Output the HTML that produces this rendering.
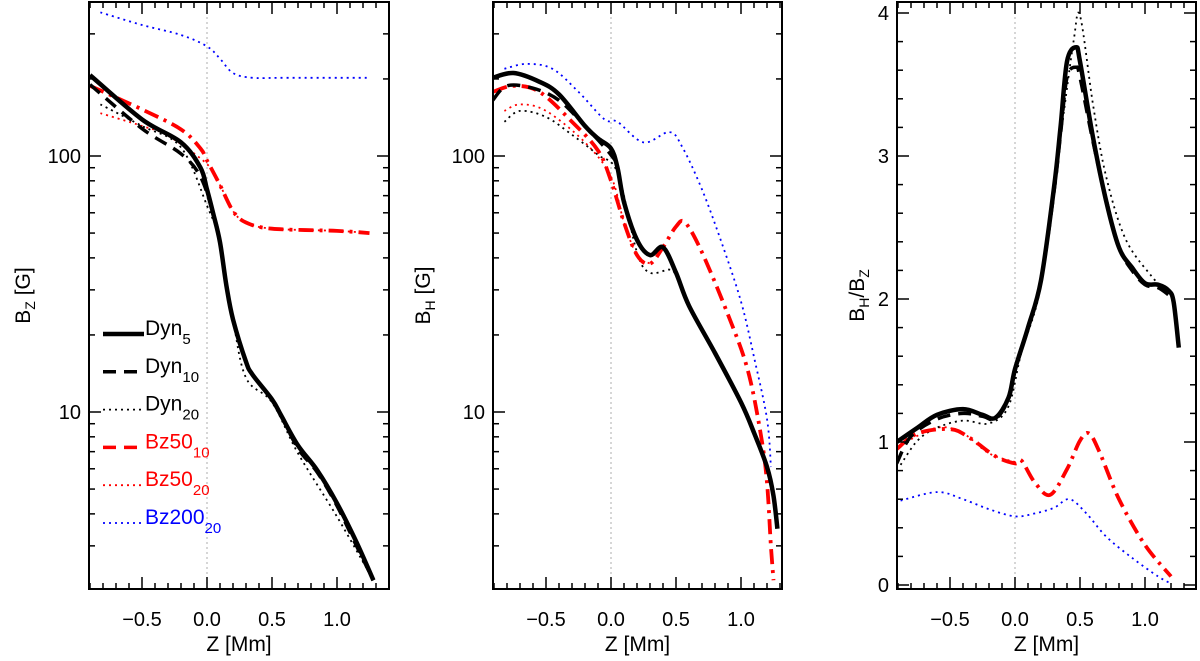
<!DOCTYPE html>
<html><head><meta charset="utf-8"><style>
html,body{margin:0;padding:0;background:#fff;}
svg{display:block;font-family:"Liberation Sans",sans-serif;}
</style></head><body>
<svg id="chart" width="1200" height="661" viewBox="0 0 1200 661"></svg>
<script>
// ---- data ----
const p1DynZ5=[-0.9,-0.5,-0.2,-0.05,0,0.05,0.1,0.15,0.2,0.3,0.35,0.5,0.57,0.7,0.85,1.0,1.15,1.28];
const p1Dyn5=[207,139,113,90,74,59,46,31,23,15.7,14,11.2,9.7,7.4,5.9,4.4,3.1,2.2];
const p1DynZ10=[-0.9,-0.5,-0.2,-0.05,0.05,0.1,0.15,0.2,0.3,0.35,0.5,0.57,0.7,0.85,1.0,1.15,1.28];
const p1Dyn10=[190,128,102,83,59,46,31,23,15.7,14,11.2,9.7,7.2,5.8,4.3,3.0,2.2];
const p1DynZ20=[-0.82,-0.5,-0.2,0,0.1,0.2,0.3,0.5,0.7,1.0,1.28];
const p1Dyn20=[159,131,108,64,46,23,13.6,10.9,6.9,3.9,2.2];
const p1BzZ10=[-0.9,-0.5,-0.2,-0.05,0,0.1,0.2,0.3,0.5,1.0,1.25];
const p1Bz10=[188,152,127,107,96,77,61,55,52,51,50];
const p1BzZ20=[-0.82,-0.5,-0.3,0,0.1,0.2,0.3,0.5,1.0,1.25];
const p1Bz20=[147,131,120,93,77,61,55,52,51,50];
const p1BlZ=[-0.82,-0.5,-0.2,0,0.1,0.2,0.35,0.6,1.25];
const p1Bl=[364,325,297,268,240,211,202,202,202];

const p2DynZ5=[-0.91,-0.75,-0.55,-0.4,-0.2,-0.1,0,0.05,0.1,0.2,0.3,0.4,0.5,0.6,0.8,1.0,1.1,1.2,1.25,1.28];
const p2Dyn5=[202,211,195,174,131,117,107,90,66,47,41,44,35,26,17,10.9,8.3,6.1,4.7,3.5];
const p2DynZ10=[-0.91,-0.8,-0.6,-0.4,-0.2,0,0.05,0.1,0.2,0.3,0.4,0.5,0.6,0.8,1.0,1.1,1.2,1.25,1.28];
const p2Dyn10=[165,188,184,165,131,101,90,66,47,41,44,35,26,17,10.9,8.3,6.1,4.7,3.5];
const p2DynZ20=[-0.82,-0.7,-0.5,-0.3,-0.1,0.05,0.2,0.3,0.45,0.5,0.6,0.8,1.0];
const p2Dyn20=[136,150,142,121,101,86,42,35,36,34,26,17,10.9];
const p2BzZ10=[-0.91,-0.75,-0.55,-0.3,-0.1,0,0.1,0.2,0.3,0.4,0.5,0.57,0.7,0.9,1.05,1.15,1.2,1.23,1.25];
const p2Bz10=[178,188,178,136,105,80,55,41,38,44,53,55,42,24,14.7,8.3,5.3,3.0,2.2];
const p2BzZ20=[-0.82,-0.7,-0.5,-0.2,0,0.1,0.2,0.3];
const p2Bz20=[150,159,150,113,83,55,41,38];
const p2BlZ=[-0.82,-0.65,-0.45,-0.25,-0.05,0.05,0.25,0.45,0.55,0.7,0.85,1.0,1.1,1.2,1.23];
const p2Bl=[219,229,219,178,139,136,113,124,108,74,46,27,16.4,9.4,6.1];

const p3DynZ5=[-0.91,-0.75,-0.6,-0.4,-0.25,-0.15,-0.05,0,0.1,0.2,0.3,0.35,0.4,0.47,0.5,0.6,0.7,0.8,0.9,1.0,1.1,1.18,1.22,1.26];
const p3Dyn5=[1.0,1.1,1.19,1.23,1.19,1.17,1.31,1.51,1.8,2.13,2.78,3.2,3.66,3.76,3.66,3.13,2.69,2.36,2.22,2.11,2.1,2.06,1.98,1.66];
const p3DynZ10=[-0.91,-0.8,-0.6,-0.4,-0.25,-0.15,-0.05,0,0.1,0.2,0.3,0.35,0.4,0.47,0.5,0.6,0.7,0.8,0.9,1.0,1.1,1.18];
const p3Dyn10=[0.85,1.04,1.16,1.2,1.18,1.16,1.3,1.5,1.8,2.13,2.75,3.15,3.55,3.62,3.55,3.1,2.7,2.36,2.2,2.1,2.08,2.03];
const p3DynZ20=[-0.88,-0.75,-0.6,-0.4,-0.2,-0.05,0.05,0.2,0.35,0.45,0.5,0.6,0.7,0.85,1.05,1.15];
const p3Dyn20=[0.84,1.01,1.1,1.15,1.13,1.25,1.63,2.1,3.13,3.8,3.98,3.36,2.86,2.42,2.16,2.07];
const p3BzZ10=[-0.91,-0.75,-0.5,-0.35,-0.15,0,0.05,0.15,0.27,0.4,0.5,0.57,0.65,0.8,1.0,1.2];
const p3Bz10=[0.95,1.06,1.09,1.03,0.9,0.85,0.87,0.72,0.63,0.81,1.01,1.06,0.93,0.6,0.28,0.06];
const p3BzZ20=[-0.88,-0.6,-0.4,-0.2,0];
const p3Bz20=[0.98,1.1,1.06,0.92,0.86];
const p3BlZ=[-0.88,-0.6,-0.4,-0.2,0,0.15,0.3,0.42,0.55,0.7,0.9,1.1,1.2];
const p3Bl=[0.59,0.65,0.6,0.53,0.48,0.5,0.54,0.6,0.5,0.34,0.19,0.06,0.01];

const xTicks=[-0.5,0.0,0.5,1.0];
const xTickLabels=["\u22120.5","0.0","0.5","1.0"];

// ---- drawing ----
const svg=document.getElementById('chart');
const NS='http://www.w3.org/2000/svg';
function mk(tag,attrs,parent){const e=document.createElementNS(NS,tag);for(const k in attrs)e.setAttribute(k,attrs[k]);(parent||svg).appendChild(e);return e;}
const STY={
 solid:{stroke:'#000','stroke-width':4.5,dash:''},
 dashed:{stroke:'#000','stroke-width':3.5,dash:'13,8'},
 dotK:{stroke:'#000','stroke-width':1.8,dash:'2,4'},
 dashR:{stroke:'#f00','stroke-width':3.8,dash:'15,6,3,6'},
 dotR:{stroke:'#f00','stroke-width':1.8,dash:'2,4'},
 dotB:{stroke:'#00f','stroke-width':1.8,dash:'2,4'}
};
function smoothPath(pts){
 let d='M'+pts[0][0].toFixed(1)+','+pts[0][1].toFixed(1);
 for(let i=0;i<pts.length-1;i++){
  const p0=pts[i-1]||pts[i],p1=pts[i],p2=pts[i+1],p3=pts[i+2]||p2;
  const c1=[p1[0]+(p2[0]-p0[0])/6,p1[1]+(p2[1]-p0[1])/6];
  const c2=[p2[0]-(p3[0]-p1[0])/6,p2[1]-(p3[1]-p1[1])/6];
  d+='C'+c1[0].toFixed(1)+','+c1[1].toFixed(1)+' '+c2[0].toFixed(1)+','+c2[1].toFixed(1)+' '+p2[0].toFixed(1)+','+p2[1].toFixed(1);
 }
 return d;
}
function panel(cfg){
 const g=mk('g',{});
 
 
 const {L,R,T,B,x0,pxPerMm}=cfg;
 const xs=z=>x0+z*pxPerMm;
 const ys=cfg.ys;
 const clipId='clip'+cfg.name;
 const cp=mk('clipPath',{id:clipId},g);mk('rect',{x:L,y:T,width:R-L,height:B-T},cp);
 const zl=mk('line',{x1:xs(0),x2:xs(0),y1:T,y2:B,stroke:'#bbb','stroke-width':1.2,'stroke-dasharray':'2,3'},g);
 
 
 const sg=mk('g',{'clip-path':'url(#'+clipId+')'},g);
 cfg.series.forEach(s=>{
  const pts=s.z.map((z,i)=>[xs(z),ys(s.v[i])]);
  const st=STY[s.style];
  const p=mk('path',{d:smoothPath(pts),fill:'none',stroke:st.stroke,'stroke-width':st['stroke-width'],'stroke-dasharray':st.dash,'stroke-linejoin':'round'},sg);
  
  
 });
 const fr=mk('rect',{x:L,y:T,width:R-L,height:B-T,fill:'none',stroke:'#000','stroke-width':2},g);
 
 
 for(let k=-9;k<=14;k++){
  const z=k/10,x=xs(z);if(x<L+1||x>R-1)continue;
  const major=(k%5===0);const len=major?12:6;
  mk('line',{x1:x,x2:x,y1:B,y2:B-len,stroke:'#000','stroke-width':1.5},g);
  mk('line',{x1:x,x2:x,y1:T,y2:T+len,stroke:'#000','stroke-width':1.5},g);
 }
 xTicks.forEach((z,i)=>{
  const t=mk('text',{x:xs(z),y:626,'text-anchor':'middle','font-size':20},g);
  t.textContent=xTickLabels[i];
  
  
 });
 const xt=mk('text',{x:(L+R)/2,y:651,'text-anchor':'middle','font-size':21},g);
 xt.textContent='Z [Mm]';
 
 
 cfg.yTicks.forEach(t=>{
  const y=ys(t.v);if(y<T||y>B)return;const len=t.major?12:6;
  mk('line',{x1:L,x2:L+len,y1:y,y2:y,stroke:'#000','stroke-width':1.5},g);
  mk('line',{x1:R,x2:R-len,y1:y,y2:y,stroke:'#000','stroke-width':1.5},g);
  if(t.label){const tx=mk('text',{x:L-8,y:y+7,'text-anchor':'end','font-size':20},g);tx.textContent=t.label;
   
   }
 });
 const yt=mk('text',{transform:'translate('+cfg.ytx+','+(T+B)/2+') rotate(-90)','text-anchor':'middle','font-size':21},g);
 yt.innerHTML=cfg.ytitle;
 
 
 return g;
}
function logTicks(){const a=[];[1,10,100].forEach(d=>{for(let m=1;m<10;m++){a.push({v:m*d,major:m===1,label:m===1&&d>=10?String(d):''});}});return a;}
const DEC=256;
const logY=v=>156-(Math.log10(v)-2)*DEC;
const TOP=2,BOT=589;
panel({name:'bz-panel',L:89,R:389,T:TOP,B:BOT,x0:207,pxPerMm:130,ys:logY,yTicks:logTicks(),ytx:30,
 ytitle:'B<tspan font-size="14" dy="5">Z</tspan><tspan dy="-5"> [G]</tspan>',
 series:[
  {name:'bz200-20-line',style:'dotB',z:p1BlZ,v:p1Bl},
  {name:'bz50-20-line',style:'dotR',z:p1BzZ20,v:p1Bz20},
  {name:'dyn20-line',style:'dotK',z:p1DynZ20,v:p1Dyn20},
  {name:'bz50-10-line',style:'dashR',z:p1BzZ10,v:p1Bz10},
  {name:'dyn10-line',style:'dashed',z:p1DynZ10,v:p1Dyn10},
  {name:'dyn5-line',style:'solid',z:p1DynZ5,v:p1Dyn5}]});
panel({name:'bh-panel',L:493,R:782,T:TOP,B:BOT,x0:611,pxPerMm:130,ys:logY,yTicks:logTicks(),ytx:430,
 ytitle:'B<tspan font-size="14" dy="5">H</tspan><tspan dy="-5"> [G]</tspan>',
 series:[
  {name:'bz200-20-line',style:'dotB',z:p2BlZ,v:p2Bl},
  {name:'bz50-20-line',style:'dotR',z:p2BzZ20,v:p2Bz20},
  {name:'dyn20-line',style:'dotK',z:p2DynZ20,v:p2Dyn20},
  {name:'bz50-10-line',style:'dashR',z:p2BzZ10,v:p2Bz10},
  {name:'dyn10-line',style:'dashed',z:p2DynZ10,v:p2Dyn10},
  {name:'dyn5-line',style:'solid',z:p2DynZ5,v:p2Dyn5}]});
const linY=v=>585-v*143;
const p3Ticks=[];for(let k=0;k<=20;k++){const v=k/5;p3Ticks.push({v:v,major:k%5===0,label:k%5===0?String(v):''});}
panel({name:'ratio-panel',L:897,R:1196,T:TOP,B:BOT,x0:1015,pxPerMm:130,ys:linY,yTicks:p3Ticks,ytx:864,
 ytitle:'B<tspan font-size="14" dy="5">H</tspan><tspan dy="-5">/B</tspan><tspan font-size="14" dy="5">Z</tspan>',
 series:[
  {name:'bz200-20-line',style:'dotB',z:p3BlZ,v:p3Bl},
  {name:'bz50-20-line',style:'dotR',z:p3BzZ20,v:p3Bz20},
  {name:'dyn20-line',style:'dotK',z:p3DynZ20,v:p3Dyn20},
  {name:'bz50-10-line',style:'dashR',z:p3BzZ10,v:p3Bz10},
  {name:'dyn10-line',style:'dashed',z:p3DynZ10,v:p3Dyn10},
  {name:'dyn5-line',style:'solid',z:p3DynZ5,v:p3Dyn5}]});
// legend
const legNames=['Dyn','Dyn','Dyn','Bz50','Bz50','Bz200'];
const legSubs=['5','10','20','10','20','20'];
const legStyles=['solid','dashed','dotK','dashed','dotR','dotB'];
const legColors=['#000','#000','#000','#f00','#f00','#00f'];
const lg=mk('g',{});


legNames.forEach((n,i)=>{
 const y=334+i*37.8;
 const st=STY[legStyles[i]];
 const e=mk('g',{},lg);
 
 
 mk('line',{x1:103,x2:144,y1:y,y2:y,stroke:legColors[i],'stroke-width':legStyles[i]==='solid'?4.5:(st['stroke-width']>2?3.5:1.8),'stroke-dasharray':legStyles[i]==='dashed'?'13,8':st.dash},e);
 const t=mk('text',{x:145,y:y+1,'font-size':21,fill:legColors[i]},e);
 t.innerHTML=n+'<tspan font-size="15" dy="9">'+legSubs[i]+'</tspan>';
});
</script>
</body></html>
